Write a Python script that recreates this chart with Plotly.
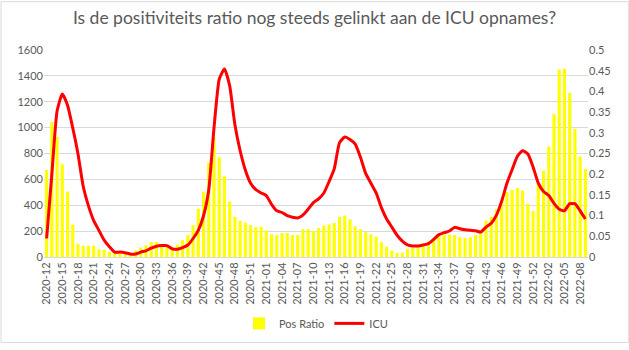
import plotly.graph_objects as go

# Week categories (year-week, with partial "week 00" at each new year)
weeks_2020 = [f"2020-{w:02d}" for w in range(12, 53)]
weeks_2021 = [f"2021-{w:02d}" for w in range(0, 53)]
weeks_2022 = [f"2022-{w:02d}" for w in range(0, 10)]
categories = weeks_2020 + weeks_2021 + weeks_2022

pos_ratio = [
    0.21, 0.326, 0.29, 0.224, 0.158, 0.078, 0.031, 0.027, 0.027, 0.027,
    0.019, 0.017, 0.0125, 0.011, 0.009, 0.009, 0.008, 0.016, 0.023, 0.028,
    0.036, 0.036, 0.031, 0.028, 0.025, 0.030, 0.041, 0.053, 0.077, 0.116,
    0.158, 0.227, 0.289, 0.241, 0.195, 0.134, 0.097, 0.0875, 0.083, 0.077,
    0.072, 0.073, 0.064, 0.055, 0.053, 0.058, 0.058, 0.053, 0.053, 0.067,
    0.067, 0.0625, 0.070, 0.076, 0.0785, 0.082, 0.097, 0.100, 0.091, 0.074,
    0.067, 0.060, 0.055, 0.049, 0.036, 0.025, 0.015, 0.010, 0.010, 0.020,
    0.023, 0.027, 0.033, 0.037, 0.045, 0.051, 0.054, 0.054, 0.053, 0.048,
    0.046, 0.048, 0.053, 0.060, 0.088, 0.097, 0.115, 0.139, 0.157, 0.162,
    0.167, 0.161, 0.128, 0.111, 0.178, 0.208, 0.267, 0.345, 0.453, 0.455,
    0.396, 0.309, 0.243, 0.213,
]

icu = [
    143, 640, 1128, 1260, 1173, 997, 796, 545, 395, 281,
    206, 130, 80, 38, 38, 33, 23, 23, 38, 48,
    68, 83, 88, 88, 63, 60, 73, 93, 143, 206,
    319, 520, 997, 1374, 1454, 1323, 1022, 821, 671, 570,
    520, 495, 475, 407, 357, 344, 319, 307, 301, 324,
    369, 420, 450, 495, 583, 683, 884, 927, 909, 872,
    771, 646, 570, 495, 382, 294, 231, 168, 123, 93,
    85, 85, 93, 103, 136, 173, 188, 201, 229, 219,
    211, 206, 203, 193, 231, 261, 324, 432, 570, 676,
    779, 821, 796, 696, 570, 507, 475, 415, 369, 357,
    412, 412, 357, 294,
]

tick_labels = categories[::3]
left_ticks = [0, 200, 400, 600, 800, 1000, 1200, 1400, 1600]
right_ticks = [0, 0.05, 0.1, 0.15, 0.2, 0.25, 0.3, 0.35, 0.4, 0.45, 0.5]

TXT = "#595959"
GRID = "#d9d9d9"
FONT = "Lato"

fig = go.Figure()
fig.add_trace(go.Bar(x=categories, y=pos_ratio, name="Pos Ratio",
                     marker=dict(color="#FFFF00", line=dict(width=0)),
                     yaxis="y"))
fig.add_trace(go.Scatter(x=categories, y=icu, name="ICU", mode="lines",
                         line=dict(color="#FF0000", width=3, shape="spline", smoothing=0.5),
                         yaxis="y2"))

L, R, T, B = 43.5, 41.3, 50, 88
W, H = 629, 350
pw, ph = W - L - R, H - T - B

fig.update_layout(
    width=W, height=H,
    margin=dict(l=L, r=R, t=T, b=B),
    paper_bgcolor="white", plot_bgcolor="white",
    font=dict(family=FONT, color=TXT, size=11),
    title=dict(text="Is de positiviteits ratio nog steeds gelinkt aan de ICU opnames?",
               x=0.5, xanchor="center", y=1 - 18 / H, yanchor="middle",
               font=dict(family=FONT, size=17.5, color=TXT)),
    bargap=0.4,
    showlegend=True,
    legend=dict(orientation="h", x=0.5, xanchor="center", y=-(330 - 262) / ph, yanchor="middle",
                font=dict(family=FONT, size=11, color=TXT), itemwidth=30),
    xaxis=dict(type="category", tickmode="array", tickvals=tick_labels, ticktext=tick_labels,
               tickangle=-90, showgrid=False, showline=True, linecolor=GRID, linewidth=1,
               ticks="", tickfont=dict(size=11, color=TXT)),
    yaxis=dict(side="right", range=[0, 0.5], tickmode="array", tickvals=right_ticks,
               ticktext=[("%g" % v) for v in right_ticks], showgrid=False, zeroline=False,
               showline=False, tickfont=dict(size=11, color=TXT)),
    yaxis2=dict(side="left", overlaying="y", range=[0, 1600], tickmode="array",
                tickvals=left_ticks, ticktext=[str(v) for v in left_ticks],
                showgrid=True, gridcolor=GRID, gridwidth=1, zeroline=False, showline=False,
                tickfont=dict(size=11, color=TXT)),
    shapes=[dict(type="rect", xref="paper", yref="paper",
                 x0=(0.5 - L) / pw, x1=(W - 0.5 - L) / pw,
                 y0=-(H - 0.5 - (T + ph)) / ph, y1=(T + ph - 0.5) / ph,
                 line=dict(color=GRID, width=1), fillcolor="rgba(0,0,0,0)", layer="below")],
)

fig.write_html("out.html")
